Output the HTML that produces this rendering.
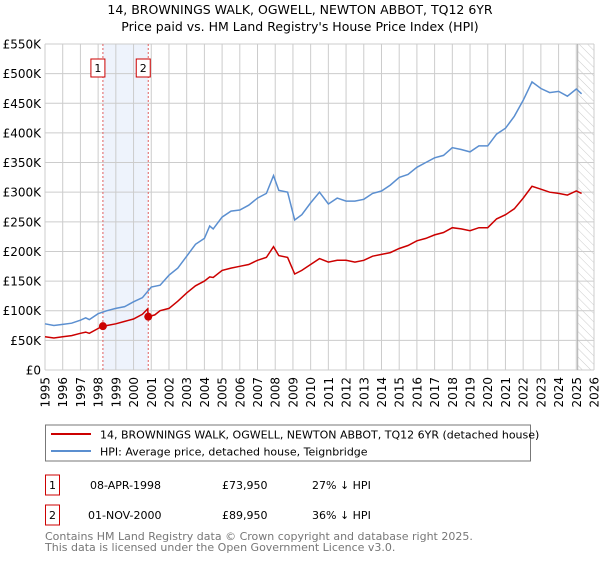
<!DOCTYPE html>
<html><head><meta charset="utf-8"><style>
body{margin:0;background:#fff;font-family:"Liberation Sans","DejaVu Sans",sans-serif}
svg text{font-family:"DejaVu Sans","Liberation Sans",sans-serif}
</style></head><body>
<svg width="600" height="560" id="c" xmlns="http://www.w3.org/2000/svg">
<defs><pattern id="h" width="6" height="6" patternUnits="userSpaceOnUse" patternTransform="rotate(-45)"><line x1="0" y1="0" x2="0" y2="6" stroke="#ccc" stroke-width="1"/></pattern></defs>
<text x="300" y="14" text-anchor="middle" font-size="12.5">14, BROWNINGS WALK, OGWELL, NEWTON ABBOT, TQ12 6YR</text>
<text x="300" y="31" text-anchor="middle" font-size="12.5">Price paid vs. HM Land Registry's House Price Index (HPI)</text>
<g id="plot"></g>
<rect x="45.5" y="425" width="485" height="36" fill="#fff" stroke="#777"/>
<line x1="51" y1="434" x2="91" y2="434" stroke="#cc0000" stroke-width="2"/>
<text x="100" y="438.5" font-size="11">14, BROWNINGS WALK, OGWELL, NEWTON ABBOT, TQ12 6YR (detached house)</text>
<line x1="51" y1="451" x2="91" y2="451" stroke="#5b8fd0" stroke-width="2"/>
<text x="100" y="455.5" font-size="11">HPI: Average price, detached house, Teignbridge</text>
<g font-size="11">
<rect x="45.5" y="475" width="14" height="20" fill="#fff" stroke="#cc0000"/>
<text x="52.5" y="489" text-anchor="middle">1</text>
<text x="90" y="489">08-APR-1998</text><text x="222" y="489">£73,950</text><text x="312" y="489">27% ↓ HPI</text>
<rect x="45.5" y="505" width="14" height="20" fill="#fff" stroke="#cc0000"/>
<text x="52.5" y="519" text-anchor="middle">2</text>
<text x="88" y="519">01-NOV-2000</text><text x="222" y="519">£89,950</text><text x="312" y="519">36% ↓ HPI</text>
</g>
<text x="45" y="540" font-size="11" fill="#777">Contains HM Land Registry data © Crown copyright and database right 2025.</text>
<text x="45" y="551" font-size="11" fill="#777">This data is licensed under the Open Government Licence v3.0.</text>
</svg>
<script>
const yTicks=[0,50,100,150,200,250,300,350,400,450,500,550];
const yLabels=["£0","£50K","£100K","£150K","£200K","£250K","£300K","£350K","£400K","£450K","£500K","£550K"];
const years=[1995,1996,1997,1998,1999,2000,2001,2002,2003,2004,2005,2006,2007,2008,2009,2010,2011,2012,2013,2014,2015,2016,2017,2018,2019,2020,2021,2022,2023,2024,2025,2026];
const hpiT=[1995,1995.5,1996,1996.5,1997,1997.3,1997.5,1998,1998.5,1999,1999.5,2000,2000.5,2001,2001.5,2002,2002.5,2003,2003.5,2004,2004.3,2004.5,2005,2005.5,2006,2006.5,2007,2007.5,2007.9,2008.2,2008.7,2009.1,2009.5,2010,2010.5,2011,2011.5,2012,2012.5,2013,2013.5,2014,2014.5,2015,2015.5,2016,2016.5,2017,2017.5,2018,2018.5,2019,2019.5,2020,2020.5,2021,2021.5,2022,2022.5,2023,2023.5,2024,2024.5,2025,2025.3];
const hpiV=[78,75,77,79,84,88,85,95,100,104,107,115,122,140,143,160,172,192,212,222,243,238,258,268,270,278,290,298,328,303,300,253,262,282,300,280,290,285,285,288,298,302,312,325,330,342,350,358,362,375,372,368,378,378,398,408,428,455,486,475,468,470,462,474,466];
const ppT=[1995,1995.5,1996,1996.5,1997,1997.3,1997.5,1998,1998.27,1998.5,1999,1999.5,2000,2000.5,2000.8,2000.83,2001.2,2001.5,2002,2002.5,2003,2003.5,2004,2004.3,2004.5,2005,2005.5,2006,2006.5,2007,2007.5,2007.9,2008.2,2008.7,2009.1,2009.5,2010,2010.5,2011,2011.5,2012,2012.5,2013,2013.5,2014,2014.5,2015,2015.5,2016,2016.5,2017,2017.5,2018,2018.5,2019,2019.5,2020,2020.5,2021,2021.5,2022,2022.5,2023,2023.5,2024,2024.5,2025,2025.3];
const ppV=[56,54,56,58,62,64,62,70,74,75,78,82,86,94,103,90,93,100,104,116,130,142,150,157,156,168,172,175,178,185,190,208,193,190,162,168,178,188,182,185,185,182,185,192,195,198,205,210,218,222,228,232,240,238,235,240,240,255,262,272,290,310,305,300,298,295,302,298];
const saleT=[1998.27,2000.83];
const saleV=[73.95,89.95];
const saleLabels=["1","2"];
const X0=45,X1=594,Y0=370,Y1=44;
const xs=t=>X0+(t-1995)/31*(X1-X0);
const ys=v=>Y0-v/550*(Y0-Y1);
const NS="http://www.w3.org/2000/svg";
const g=document.getElementById('plot');
function mk(tag,attrs,parent){const e=document.createElementNS(NS,tag);for(const k in attrs)e.setAttribute(k,attrs[k]);(parent||g).appendChild(e);return e;}
let e;
e=mk('rect',{x:xs(saleT[0]),y:Y1,width:xs(saleT[1])-xs(saleT[0]),height:Y0-Y1,fill:'#eef3fc'});


e=mk('rect',{x:xs(2025.08),y:Y1,width:X1-xs(2025.08),height:Y0-Y1,fill:'url(#h)'});


yTicks.forEach((v,i)=>{
 e=mk('line',{x1:X0,x2:X1,y1:ys(v),y2:ys(v),stroke:'#ccc','stroke-width':1});
 
 
 e=mk('text',{x:X0-4,y:ys(v)+4.5,'text-anchor':'end','font-size':'12'});
 e.textContent=yLabels[i];
 
 
});
years.forEach(yr=>{
 e=mk('line',{x1:xs(yr),x2:xs(yr),y1:Y1,y2:Y0,stroke:'#ccc','stroke-width':1});
 
 
 e=mk('text',{x:0,y:0,'font-size':'12','text-anchor':'end',transform:`translate(${xs(yr)+4.5},377) rotate(-90)`});
 e.textContent=yr;
 
 
});
e=mk('line',{x1:xs(2025.08),x2:xs(2025.08),y1:Y1,y2:Y0,stroke:'#aaa','stroke-width':1});


saleT.forEach((t,i)=>{
 e=mk('line',{x1:xs(t),x2:xs(t),y1:Y1,y2:Y0,stroke:'#e06060','stroke-width':1,'stroke-dasharray':'2,2'});
 
 
});
const path=(T,V)=>T.map((t,i)=>(i?'L':'M')+xs(t).toFixed(1)+','+ys(V[i]).toFixed(1)).join('');
e=mk('path',{d:path(hpiT,hpiV),fill:'none',stroke:'#5b8fd0','stroke-width':1.5});


e=mk('path',{d:path(ppT,ppV),fill:'none',stroke:'#cc0000','stroke-width':1.5});


saleT.forEach((t,i)=>{
 e=mk('circle',{cx:xs(t),cy:ys(saleV[i]),r:4,fill:'#cc0000'});
 
 
 e=mk('rect',{x:xs(t)-12,y:59,width:14,height:18,fill:'#fff',stroke:'#cc0000'});
 
 
 e=mk('text',{x:xs(t)-5,y:72,'text-anchor':'middle','font-size':'11'});
 e.textContent=saleLabels[i];
 
 
});
</script>
</body></html>
